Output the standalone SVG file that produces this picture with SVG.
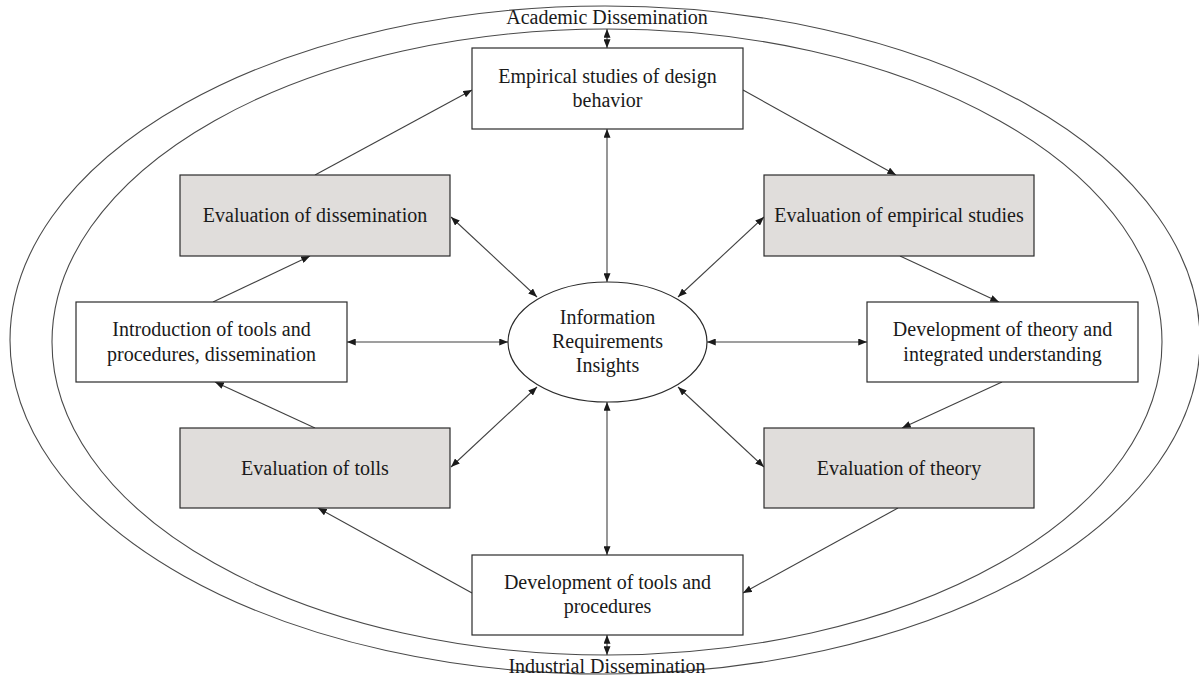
<svg xmlns="http://www.w3.org/2000/svg" width="1199" height="678" viewBox="0 0 1199 678">
<defs>
<marker id="ah" viewBox="0 0 10 8" refX="10" refY="4" markerWidth="9" markerHeight="7" markerUnits="userSpaceOnUse" orient="auto-start-reverse">
<path d="M0,0 L10,4 L0,8 Z" fill="#1a1a1a"/>
</marker>
<style>
.ring{fill:none;stroke:#4a4a4a;stroke-width:1.1}
.box{fill:#ffffff;stroke:#2b2b2b;stroke-width:1.2}
.grey{fill:#e0dddb;stroke:#2b2b2b;stroke-width:1.2}
.lbl{font-family:"Liberation Serif","Times New Roman",serif;font-size:20px;fill:#1a1a1a;text-anchor:middle}
.c{fill:none;stroke:#404040;stroke-width:1.1}
.one{marker-end:url(#ah)}
.two{marker-start:url(#ah);marker-end:url(#ah)}
</style>
</defs>
<rect width="1199" height="678" fill="#ffffff"/>
<g id="rings">
<ellipse class="ring" cx="605" cy="340" rx="595" ry="334"/>
<ellipse class="ring" cx="607" cy="342" rx="555" ry="313"/>
<text class="lbl" x="607" y="24">Academic Dissemination</text>
<text class="lbl" x="607" y="673">Industrial Dissemination</text>
</g>
<g id="connectors">
<line class="c two" x1="607" y1="29" x2="607" y2="48"/>
<line class="c two" x1="607" y1="635" x2="607" y2="655"/>
<line class="c two" x1="607" y1="129" x2="607" y2="282"/>
<line class="c two" x1="607" y1="402" x2="607" y2="555"/>
<line class="c two" x1="347" y1="342" x2="508" y2="342"/>
<line class="c two" x1="707" y1="342" x2="867" y2="342"/>
<line class="c two" x1="451" y1="217" x2="537" y2="297"/>
<line class="c two" x1="764" y1="217" x2="678" y2="297"/>
<line class="c two" x1="451" y1="467" x2="537" y2="387"/>
<line class="c two" x1="764" y1="467" x2="678" y2="387"/>
<line class="c one" x1="315" y1="175" x2="472" y2="90"/>
<line class="c one" x1="743" y1="90" x2="896" y2="175"/>
<line class="c one" x1="900" y1="256" x2="999" y2="302"/>
<line class="c one" x1="1002" y1="382" x2="902" y2="428"/>
<line class="c one" x1="898" y1="508" x2="743" y2="593"/>
<line class="c one" x1="472" y1="593" x2="318" y2="508"/>
<line class="c one" x1="315" y1="428" x2="215" y2="382"/>
<line class="c one" x1="213" y1="302" x2="310" y2="256"/>
</g>
<g id="n-empirical">
<rect class="box" x="472" y="48" width="271" height="81"/>
<text class="lbl" x="607.5" y="83">Empirical studies of design</text>
<text class="lbl" x="607.5" y="107">behavior</text>
</g>
<g id="n-eval-empirical">
<rect class="grey" x="764" y="175" width="270" height="81"/>
<text class="lbl" x="899" y="222">Evaluation of empirical studies</text>
</g>
<g id="n-dev-theory">
<rect class="box" x="867" y="302" width="271" height="80"/>
<text class="lbl" x="1002.5" y="336">Development of theory and</text>
<text class="lbl" x="1002.5" y="361">integrated understanding</text>
</g>
<g id="n-eval-theory">
<rect class="grey" x="764" y="428" width="270" height="80"/>
<text class="lbl" x="899" y="475">Evaluation of theory</text>
</g>
<g id="n-dev-tools">
<rect class="box" x="472" y="555" width="271" height="80"/>
<text class="lbl" x="607.5" y="589">Development of tools and</text>
<text class="lbl" x="607.5" y="613">procedures</text>
</g>
<g id="n-eval-tolls">
<rect class="grey" x="180" y="428" width="270" height="80"/>
<text class="lbl" x="315" y="475">Evaluation of tolls</text>
</g>
<g id="n-intro">
<rect class="box" x="76" y="302" width="271" height="80"/>
<text class="lbl" x="211.5" y="336">Introduction of tools and</text>
<text class="lbl" x="211.5" y="361">procedures, dissemination</text>
</g>
<g id="n-eval-dissemination">
<rect class="grey" x="180" y="175" width="270" height="81"/>
<text class="lbl" x="315" y="222">Evaluation of dissemination</text>
</g>
<g id="n-center">
<ellipse class="box" cx="607.5" cy="342" rx="99.5" ry="60"/>
<text class="lbl" x="607.5" y="324">Information</text>
<text class="lbl" x="607.5" y="348">Requirements</text>
<text class="lbl" x="607.5" y="372">Insights</text>
</g>
</svg>
